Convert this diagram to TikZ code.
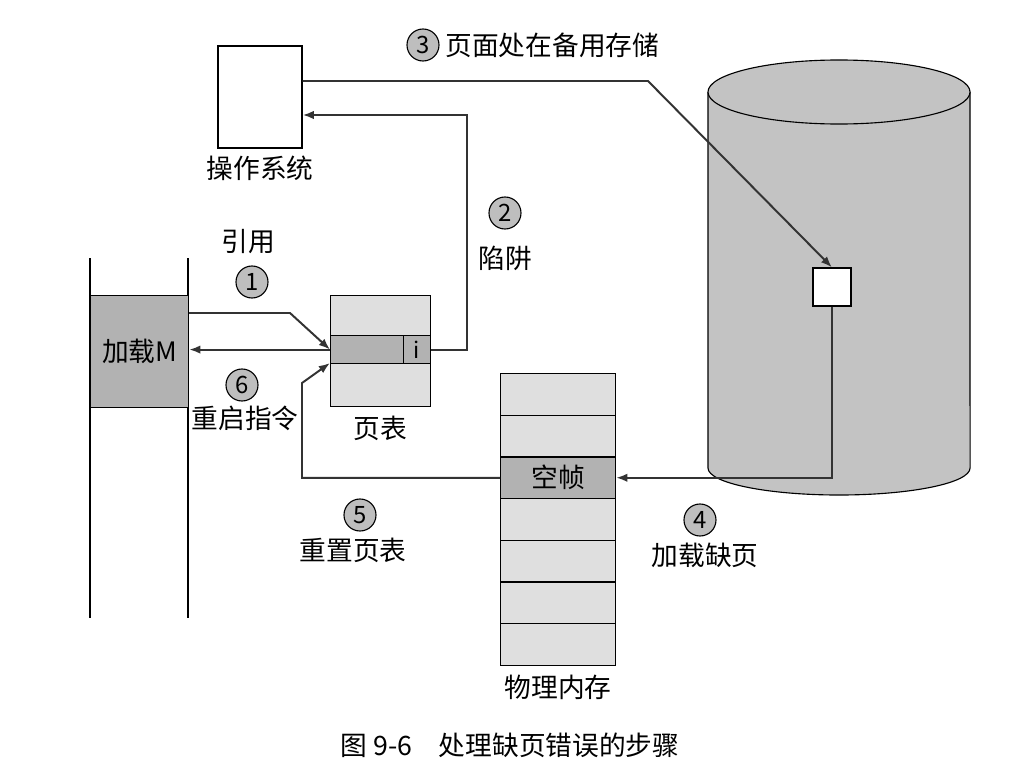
\documentclass[tikz,border=0pt]{standalone}
\usepackage{fontspec}
\setmainfont{Noto Sans CJK SC}
\usetikzlibrary{positioning,calc,arrows.meta}
\definecolor{diskgray}{RGB}{195,195,195}
\definecolor{numgray}{RGB}{190,190,190}
\begin{document}
\begin{tikzpicture}[x=0.025cm,y=-0.025cm,font=\fontsize{19}{22}\selectfont,
lbl/.style={inner sep=1pt},
num/.style={circle,draw,thick,fill=numgray,inner sep=0pt,minimum size=0.8cm,font=\fontsize{17}{18}\selectfont},
conn/.style={line width=1.4pt,-{Latex[length=8pt,width=6pt]},draw=black!80},
cell/.style={draw,thick,fill=gray!25,minimum width=2.5cm},
darkcell/.style={cell,fill=gray!60}]
\useasboundingbox (0,0) rectangle (1022,776);
% disk
\path[fill=diskgray] (708,92) -- (708,468) arc[start angle=180,end angle=360,x radius=3.275cm,y radius=0.675cm] -- (970,92) -- cycle;
\draw[thick] (708,92) -- (708,468) arc[start angle=180,end angle=360,x radius=3.275cm,y radius=0.675cm] -- (970,92);
\draw[thick,fill=diskgray] (839,92) ellipse[x radius=3.275cm,y radius=0.8cm];
\node[draw,thick,fill=white,minimum size=0.95cm,inner sep=0] (blk) at (832,287) {};
% operating system
\node[draw,thick,fill=white,minimum width=2.1cm,minimum height=2.55cm] (os) at (260,97) {};
\node[lbl,below=4pt of os] (oslbl) {操作系统};
% process
\draw[thick] (90,258) -- (90,618) (188,258) -- (188,618);
\node[draw,thick,fill=gray!60,minimum width=2.45cm,minimum height=2.8cm,anchor=north west] (load) at (90,295) {加载M};
% page table
\node[cell,minimum height=1cm,anchor=north west] (pt1) at (330,295) {};
\node[darkcell,minimum width=1.83cm,minimum height=0.7cm,anchor=north west] (pt2) at (330,335) {};
\node[darkcell,minimum width=0.67cm,minimum height=0.7cm,anchor=north west,font=\fontsize{16}{18}\selectfont,inner sep=0] (pti) at (403,335) {i};
\node[cell,minimum height=1.075cm,anchor=north west] (pt3) at (330,363) {};
\node[lbl,below=5pt of pt3] (ptlbl) {页表};
% physical memory
\foreach \i in {1,...,7}
{\node[cell,minimum width=2.875cm,minimum height=1.04cm,anchor=north west] (m\i) at (500,{373+(\i-1)*41.7}) {};}
\node[darkcell,minimum width=2.875cm,minimum height=1.04cm] at (m3) {空帧};
\node[lbl,below=5pt of m7] (memlbl) {物理内存};
% connectors
\draw[conn] (load.east |- 0,313) -- (290,313) -- (pt2.west);
\draw[conn] (pt2.west) -- (load.east |- pt2.west);
\draw[conn] (pti.east) -| (467,115) -- (os.east |- 0,115);
\draw[conn] (os.east |- 0,81) -- (648,81) -- (blk.north);
\draw[conn] (blk.south) |- (m3.east);
\draw[conn] (m3.west) -| (302,383) -- (pt3.north west);
% step labels
\node[lbl] (t1) at (248,242) {引用};
\node[num] (n1) at (252,282) {1};
\node[num] (n2) at (505,213) {2};
\node[lbl] (t2) at (505,258) {陷阱};
\node[num] (n3) at (423,45) {3};
\node[lbl,right=3pt of n3] (t3) {页面处在备用存储};
\node[num] (n4) at (700,520) {4};
\node[lbl] (t4) at (705,555) {加载缺页};
\node[num] (n5) at (360,515) {5};
\node[lbl] (t5) at (353,550) {重置页表};
\node[num] (n6) at (242,385) {6};
\node[lbl] (t6) at (245,418) {重启指令};
\node[lbl] (cap) at (510,745) {图 9-6\quad 处理缺页错误的步骤};
\end{tikzpicture}
\end{document}
